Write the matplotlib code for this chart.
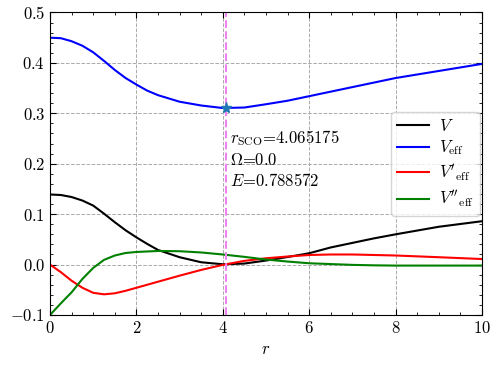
"""Effective potential around the stable circular orbit."""
import matplotlib
matplotlib.use('Agg')
import matplotlib.pyplot as plt
from matplotlib.ticker import MultipleLocator

# values
r = [0.0, 0.25, 0.5, 0.75, 1.0, 1.25, 1.5, 1.75, 2.0, 2.25, 2.5, 3.0, 3.5,
     4.0, 4.5, 5.0, 5.5, 6.0, 6.5, 7.0, 7.5, 8.0, 9.0, 10.0]
V = [0.139, 0.138, 0.134, 0.127, 0.117, 0.101, 0.084, 0.068, 0.054, 0.041,
     0.029, 0.0146, 0.0046, 0.0006, 0.002, 0.008, 0.015, 0.0225, 0.034,
     0.043, 0.052, 0.060, 0.075, 0.086]
V_eff = [0.450, 0.449, 0.443, 0.434, 0.421, 0.404, 0.386, 0.370, 0.357,
         0.345, 0.336, 0.323, 0.3155, 0.3105, 0.3115, 0.318, 0.325, 0.334,
         0.343, 0.352, 0.361, 0.370, 0.384, 0.398]
dV_eff = [0.000, -0.015, -0.032, -0.046, -0.056, -0.059, -0.057, -0.052,
          -0.046, -0.040, -0.034, -0.022, -0.0106, -0.0006, 0.0074, 0.0125,
          0.016, 0.019, 0.020, 0.020, 0.019, 0.018, 0.0146, 0.011]
ddV_eff = [-0.100, -0.077, -0.055, -0.0285, -0.0066, 0.0093, 0.018, 0.023,
           0.025, 0.026, 0.027, 0.0265, 0.024, 0.020, 0.0153, 0.010, 0.006,
           0.0026, 0.001, -0.0006, -0.0015, -0.002, -0.002, -0.002]

r_sco = 4.065175
V_sco = 0.3103
omega = 0.0
energy = 0.788572

plt.rcParams.update({
    'font.family': 'serif',
    'font.serif': ['cmr10'],
    'mathtext.fontset': 'cm',
    'axes.formatter.use_mathtext': True,
    'font.size': 12,
    'xtick.direction': 'in',
    'ytick.direction': 'in',
    'xtick.top': True,
    'ytick.right': True,
    'xtick.minor.visible': True,
    'ytick.minor.visible': True,
})

fig = plt.figure(figsize=(4.98, 3.67), dpi=100)
ax = fig.add_axes([0.1004, 0.1417, 0.8675, 0.8243])

ax.plot(r, V, color='black', lw=1.5, label=r'$V$')
ax.plot(r, V_eff, color='blue', lw=1.5, label=r'$V_{\rm eff}$')
ax.plot(r, dV_eff, color='red', lw=1.5, label=r"$V'_{\rm eff}$")
ax.plot(r, ddV_eff, color='green', lw=1.5, label=r"$V''_{\rm eff}$")

ax.axvline(r_sco, color='violet', ls='--', lw=1.5)
ax.plot([r_sco], [V_sco], marker='*', color='#1f77b4', ms=8, ls='none')
ax.text(r_sco + 0.1, 0.27,
        r'$r_{\rm SCO}$=%.6f' '\n' r'$\Omega$=%.1f' '\n' r'$E$=%.6f'
        % (r_sco, omega, energy),
        fontsize=12, va='top', ha='left', linespacing=1.3)

ax.set_xlim(0, 10)
ax.set_ylim(-0.1, 0.5)
ax.xaxis.set_major_locator(MultipleLocator(2))
ax.xaxis.set_minor_locator(MultipleLocator(0.5))
ax.yaxis.set_major_locator(MultipleLocator(0.1))
ax.yaxis.set_minor_locator(MultipleLocator(0.02))
ax.tick_params(which='major', length=4)
ax.tick_params(which='minor', length=2)
ax.grid(True, ls='--', color='#aaaaaa', lw=0.7)
ax.set_xlabel(r'$r$')
ax.legend(loc='center right', fontsize=12, handlelength=1.9,
          handletextpad=0.6, labelspacing=0.3, borderpad=0.35,
          borderaxespad=0.15)

fig.savefig('out.png', dpi=100)
